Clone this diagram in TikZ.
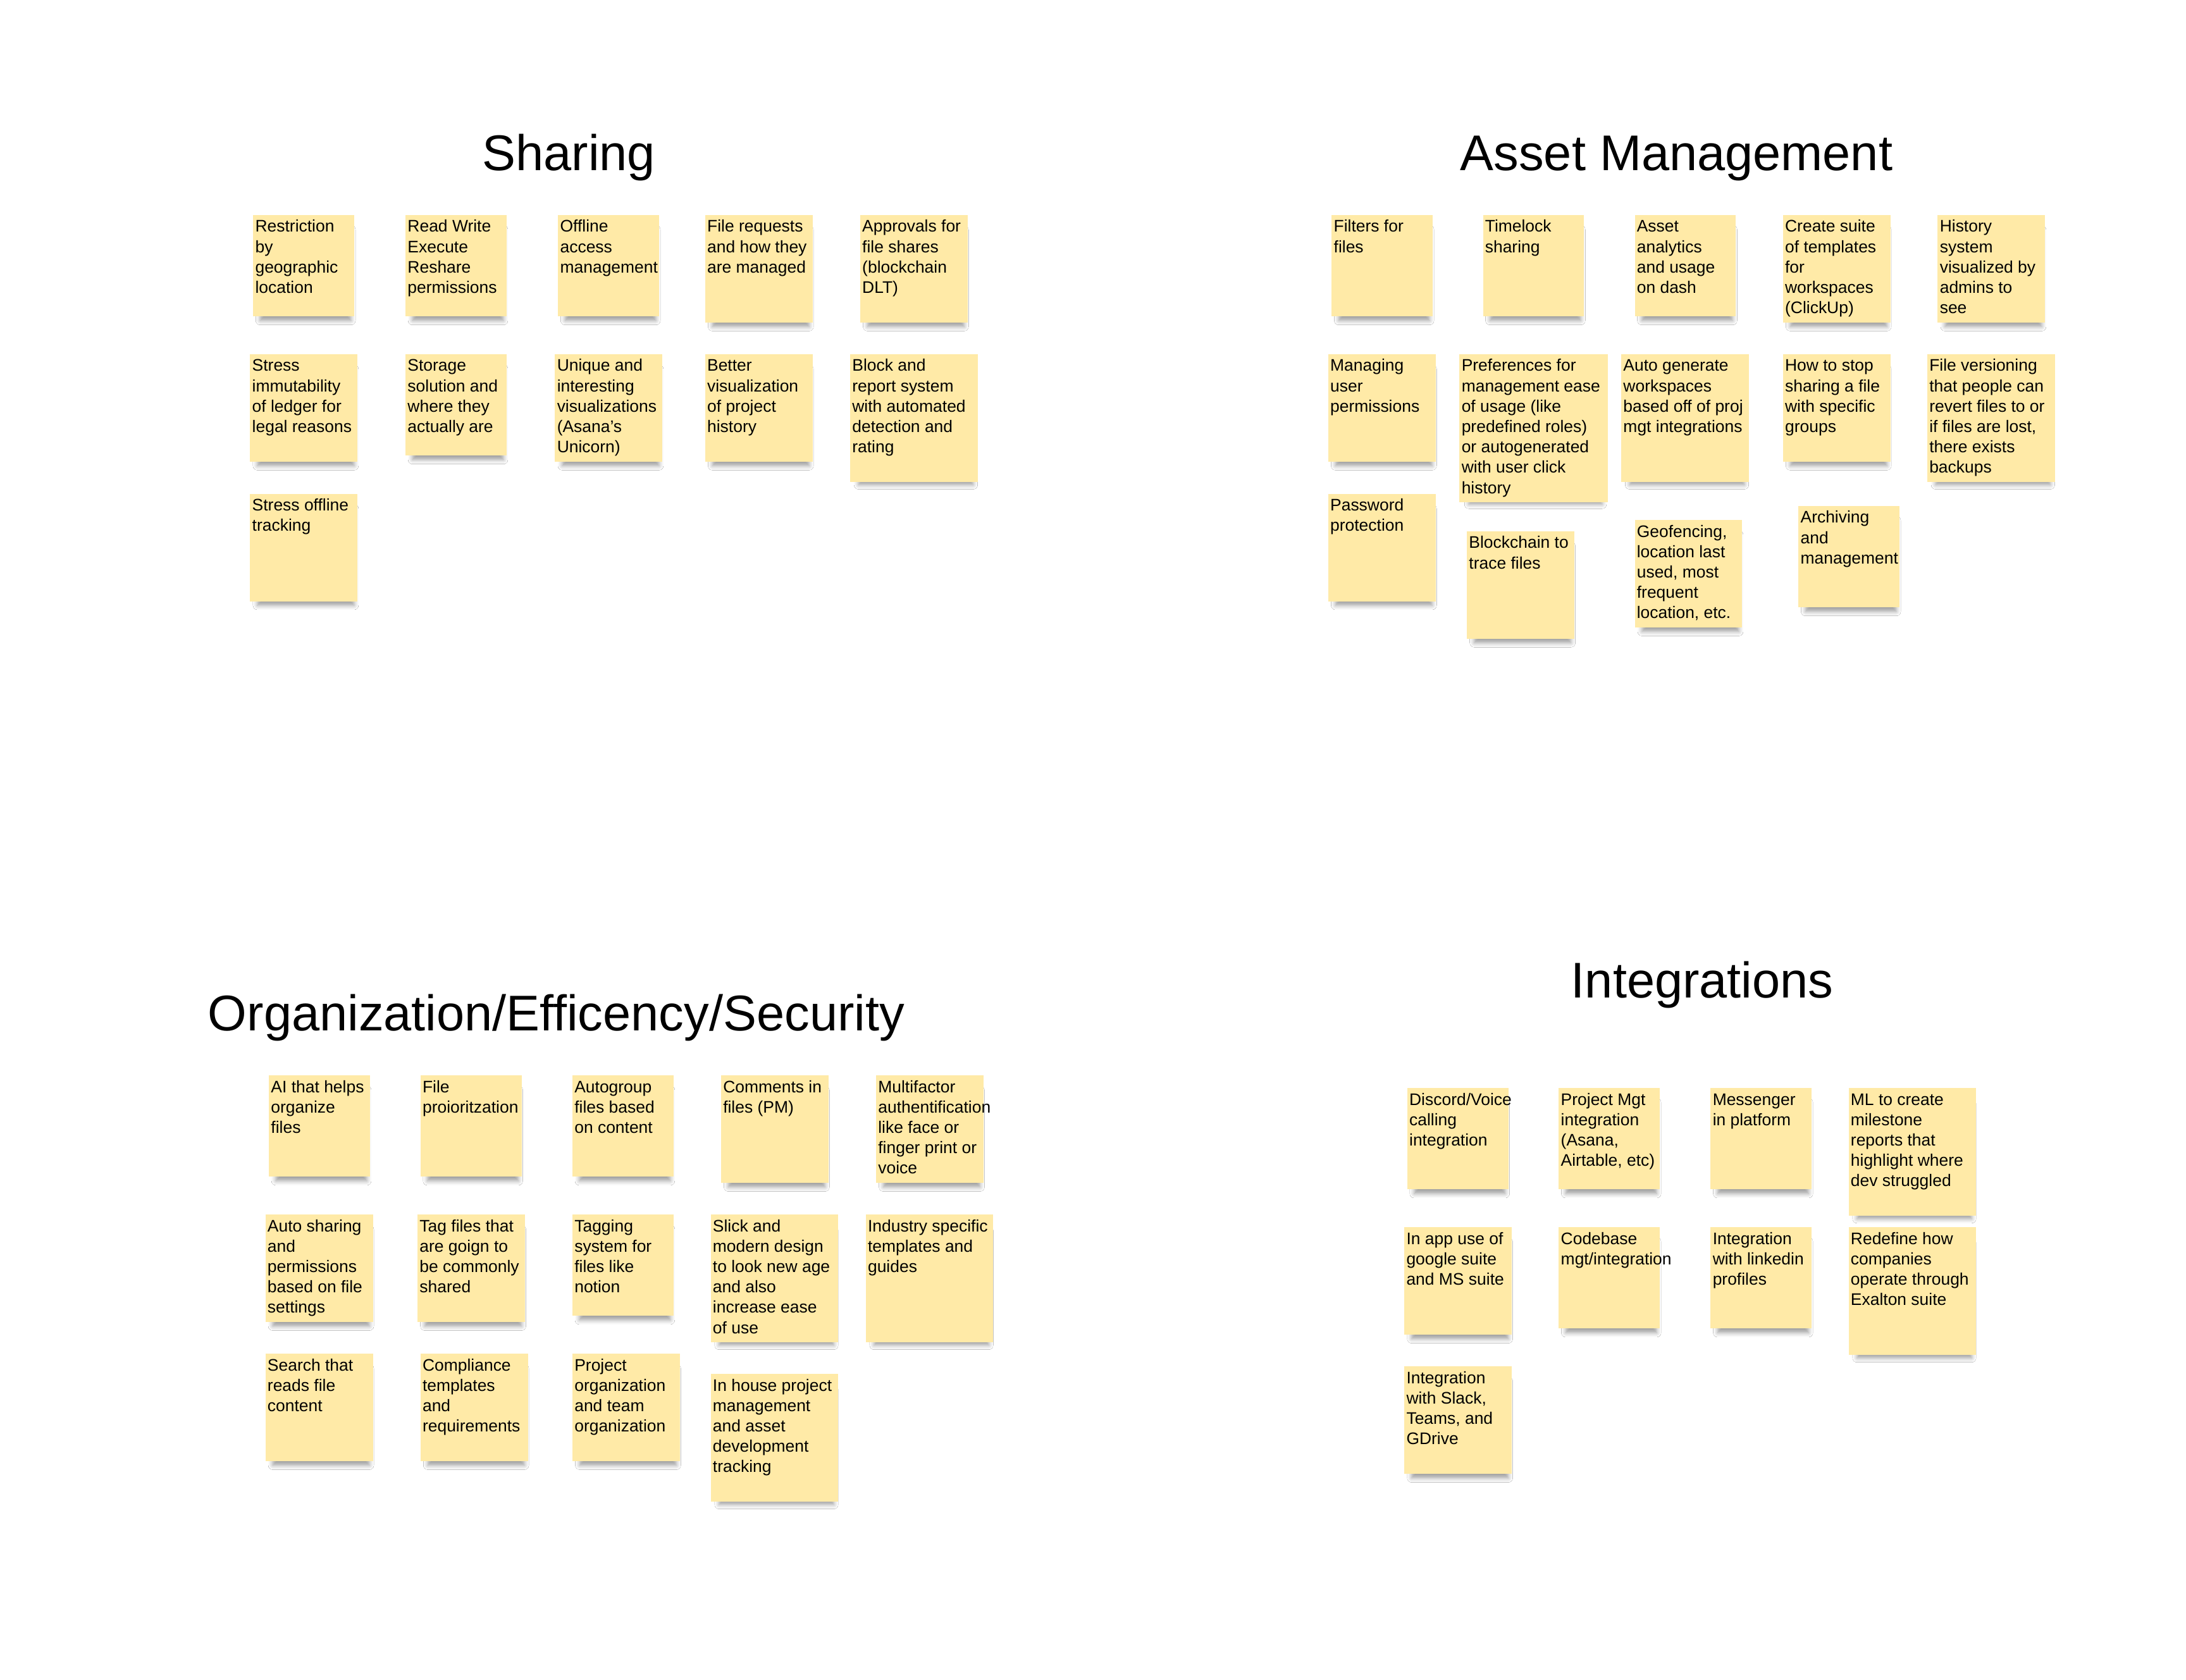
\documentclass[tikz,border=0pt]{standalone}
\usepackage{fontspec}
\setmainfont{Liberation Sans}
\usetikzlibrary{shadows.blur}
\definecolor{stickyfill}{RGB}{255,234,167}
\tikzset{
  notebox/.style={fill=stickyfill, draw=none, inner sep=0pt, outer sep=0pt,
    blur shadow={shadow xshift=1.5pt, shadow yshift=-7.5pt, shadow scale=0.9,
      shadow blur radius=3.5pt, shadow opacity=38}},
  notetext/.style={inner sep=0pt, outer sep=0pt, align=left, text=black,
    font=\fontsize{12}{14.6}\selectfont},
  title/.style={inner sep=0pt, text=black, font=\fontsize{36}{40}\selectfont, anchor=base}
}
\def\SS{72.5pt}
\def\MM{77.1pt}
\def\LL{91.5pt}
\def\XX{106.2pt}
% #1 name, #2 left, #3 top, #4 size, #5 text
\newcommand\stickynote[5]{%
  \node[notebox, minimum width=#4, minimum height=#4, anchor=north west] (#1) at (#2,#3) {};
  \node[notetext, anchor=north west] (#1t) at ([xshift=1.5pt,yshift=-2.7pt]#1.north west) {\rule{0pt}{9.5pt}#5};
}
\begin{document}
\begin{tikzpicture}[x=1pt,y=-1pt]
\path[fill=white] (0,0) rectangle (1568,1205);
\useasboundingbox (0,0) rectangle (1568,1205);

% Titles
\node[title] (tsharing) at (408,122.2) {Sharing};
\node[title] (tasset) at (1202.5,122.2) {Asset Management};
\node[title] (torg) at (399,739.5) {Organization/Efficency/Security};
\node[title] (tint) at (1221,715.7) {Integrations};

% Sharing
\stickynote{sh1}{181.6}{154.3}{\SS}{Restriction\\by\\geographic\\location}
\stickynote{sh2}{290.9}{154.3}{\SS}{Read Write\\Execute\\Reshare\\permissions}
\stickynote{sh3}{400.3}{154.3}{\SS}{Offline\\access\\management}
\stickynote{sh4}{505.8}{154.3}{\MM}{File requests\\and how they\\are managed}
\stickynote{sh5}{617.0}{154.3}{\MM}{Approvals for\\file shares\\(blockchain\\DLT)}
\stickynote{sh6}{179.4}{254.1}{\MM}{Stress\\immutability\\of ledger for\\legal reasons}
\stickynote{sh7}{290.9}{254.1}{\SS}{Storage\\solution and\\where they\\actually are}
\stickynote{sh8}{398.1}{254.1}{\MM}{Unique and\\interesting\\visualizations\\(Asana's\\Unicorn)}
\stickynote{sh9}{505.8}{254.1}{\MM}{Better\\visualization\\of project\\history}
\stickynote{sh10}{609.8}{254.1}{\LL}{Block and\\report system\\with automated\\detection and\\rating}
\stickynote{sh11}{179.4}{354.2}{\MM}{Stress offline\\tracking}

% Asset Management
\stickynote{am1}{955.2}{154.3}{\SS}{Filters for\\files}
\stickynote{am2}{1063.7}{154.3}{\SS}{Timelock\\sharing}
\stickynote{am3}{1172.6}{154.3}{\SS}{Asset\\analytics\\and usage\\on dash}
\stickynote{am4}{1278.9}{154.3}{\MM}{Create suite\\of templates\\for\\workspaces\\(ClickUp)}
\stickynote{am5}{1389.9}{154.3}{\MM}{History\\system\\visualized by\\admins to\\see}
\stickynote{am6}{952.7}{254.1}{\MM}{Managing\\user\\permissions}
\stickynote{am7}{1046.9}{254.1}{\XX}{Preferences for\\management ease\\of usage (like\\predefined roles)\\or autogenerated\\with user click\\history}
\stickynote{am8}{1162.9}{254.1}{\LL}{Auto generate\\workspaces\\based off of proj\\mgt integrations}
\stickynote{am9}{1278.9}{254.1}{\MM}{How to stop\\sharing a file\\with specific\\groups}
\stickynote{am10}{1382.4}{254.1}{\LL}{File versioning\\that people can\\revert files to or\\if files are lost,\\there exists\\backups}
\stickynote{am11}{952.7}{354.2}{\MM}{Password\\protection}
\stickynote{am12}{1052.2}{381.1}{\MM}{Blockchain to\\trace files}
\stickynote{am13}{1172.6}{373.0}{\MM}{Geofencing,\\location last\\used, most\\frequent\\location, etc.}
\stickynote{am14}{1290.0}{363.0}{\SS}{Archiving\\and\\management}

% Organization/Efficency/Security
\stickynote{og1}{192.9}{771.4}{\SS}{AI that helps\\organize\\files}
\stickynote{og2}{301.6}{771.4}{\SS}{File\\proioritzation}
\stickynote{og3}{410.6}{771.4}{\SS}{Autogroup\\files based\\on content}
\stickynote{og4}{517.2}{771.4}{\MM}{Comments in\\files (PM)}
\stickynote{og5}{628.4}{771.4}{\MM}{Multifactor\\authentification\\like face or\\finger print or\\voice}
\stickynote{og6}{190.4}{871.2}{\MM}{Auto sharing\\and\\permissions\\based on file\\settings}
\stickynote{og7}{299.5}{871.2}{\MM}{Tag files that\\are goign to\\be commonly\\shared}
\stickynote{og8}{410.6}{871.2}{\SS}{Tagging\\system for\\files like\\notion}
\stickynote{og9}{509.8}{871.2}{\LL}{Slick and\\modern design\\to look new age\\and also\\increase ease\\of use}
\stickynote{og10}{621.0}{871.2}{\LL}{Industry specific\\templates and\\guides}
\stickynote{og11}{190.4}{971.0}{\MM}{Search that\\reads file\\content}
\stickynote{og12}{301.6}{971.0}{\MM}{Compliance\\templates\\and\\requirements}
\stickynote{og13}{410.6}{971.0}{\MM}{Project\\organization\\and team\\organization}
\stickynote{og14}{509.8}{985.5}{\LL}{In house project\\management\\and asset\\development\\tracking}

% Integrations
\stickynote{in1}{1009.4}{780.5}{\SS}{Discord/Voice\\calling\\integration}
\stickynote{in2}{1118.1}{780.5}{\SS}{Project Mgt\\integration\\(Asana,\\Airtable, etc)}
\stickynote{in3}{1227.0}{780.5}{\SS}{Messenger\\in platform}
\stickynote{in4}{1326.0}{780.5}{\LL}{ML to create\\milestone\\reports that\\highlight where\\dev struggled}
\stickynote{in5}{1007.3}{880.3}{\MM}{In app use of\\google suite\\and MS suite}
\stickynote{in6}{1118.1}{880.3}{\SS}{Codebase\\mgt/integration}
\stickynote{in7}{1227.0}{880.3}{\SS}{Integration\\with linkedin\\profiles}
\stickynote{in8}{1326.0}{880.3}{\LL}{Redefine how\\companies\\operate through\\Exalton suite}
\stickynote{in9}{1007.3}{980.1}{\MM}{Integration\\with Slack,\\Teams, and\\GDrive}
\end{tikzpicture}
\end{document}
